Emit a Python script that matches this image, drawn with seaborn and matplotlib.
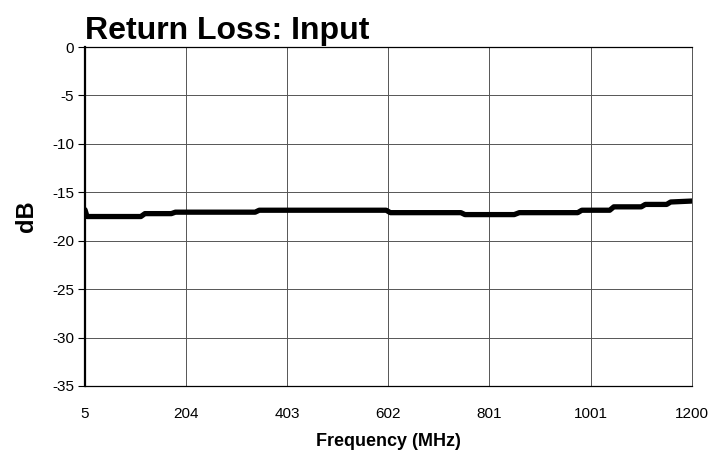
import matplotlib
matplotlib.use("Agg")
import matplotlib.pyplot as plt
import seaborn as sns
import pandas as pd

# Return loss readings (MHz, dB)
freq_mhz = [5, 9, 115, 123, 175, 183, 340, 348, 598, 606, 745, 753,
            850, 860, 975, 983, 1038, 1046, 1100, 1108, 1150, 1158, 1200]
loss_db = [-16.8, -17.5, -17.5, -17.2, -17.2, -17.05, -17.05, -16.85,
           -16.85, -17.1, -17.1, -17.3, -17.3, -17.1, -17.1, -16.85,
           -16.85, -16.5, -16.5, -16.25, -16.25, -16.0, -15.9]
x_ticks = [5, 204, 403, 602, 801, 1001, 1200]
y_ticks = [0, -5, -10, -15, -20, -25, -30, -35]

df = pd.DataFrame({"freq": freq_mhz, "db": loss_db})

sns.set_style("white", {"text.color": "black", "xtick.color": "black",
                        "ytick.color": "black", "axes.labelcolor": "black"})
plt.rcParams["font.family"] = ["Liberation Sans", "DejaVu Sans"]

fig = plt.figure(figsize=(7.1, 4.66), dpi=100)
ax = fig.add_axes([0.1197, 0.1717, 0.855, 0.7273])

sns.lineplot(data=df, x="freq", y="db", color="black", linewidth=3.8,
             ax=ax, solid_joinstyle="round", solid_capstyle="round")

ax.set_xlim(5, 1200)
ax.set_ylim(-35, 0)
ax.set_xticks(x_ticks)
ax.set_yticks(y_ticks)
ax.set_xticklabels([str(t) for t in x_ticks], fontsize=11)
ax.set_yticklabels([str(t) for t in y_ticks], fontsize=11)
ax.grid(True, color="#555555", linewidth=0.7)
ax.tick_params(axis="y", length=5, width=0.8, color="black", pad=3, left=True)
ax.tick_params(axis="x", length=0, pad=15)

for side, sp in ax.spines.items():
    sp.set_visible(True)
    sp.set_color("black")
    sp.set_linewidth(0.9)
ax.spines["left"].set_linewidth(1.6)
ax.spines["right"].set_color("#555555")
ax.spines["right"].set_linewidth(0.7)

ax.set_xlabel("Frequency (MHz)", fontsize=13, fontweight="bold", labelpad=9)
ax.set_ylabel("dB", fontsize=17, fontweight="bold", labelpad=10)
ax.set_title("Return Loss: Input", fontsize=23, fontweight="bold",
             loc="left", pad=6)

fig.savefig("out.png", dpi=100)
